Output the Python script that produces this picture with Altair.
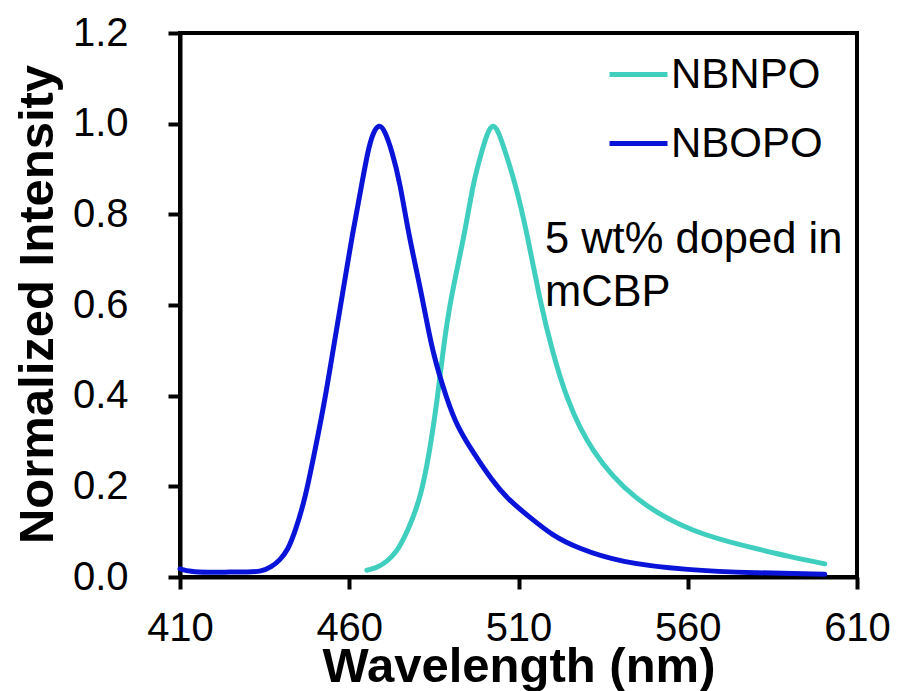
import altair as alt
import pandas as pd

# NBOPO (blue) emission
nbopo_wl = [410, 413, 418, 425, 430, 434, 437, 439.5, 441.9, 444, 446.9, 449.9, 452.8, 455.2,
            457.7, 461, 463.8, 465.5, 467, 468.8, 470.5, 472.6, 475, 477.4, 481.8, 484.4,
            488.9, 492, 497, 502, 507, 514.3, 520, 527.3, 540, 560, 580, 600.5]
nbopo_int = [0.018, 0.012, 0.010, 0.011, 0.011, 0.012, 0.022, 0.037, 0.06, 0.10, 0.17, 0.28, 0.39, 0.50,
             0.61, 0.76, 0.87, 0.94, 0.98, 1.0, 0.985, 0.94, 0.87, 0.76, 0.61, 0.50,
             0.39, 0.33, 0.27, 0.215, 0.17, 0.126, 0.092, 0.064, 0.032, 0.015, 0.009, 0.006]

# NBNPO (teal) emission
nbnpo_wl = [465.2, 468, 471, 474, 476.5, 478.5, 480.5, 482.3, 484, 486, 487.7, 489.8, 494.2, 496.6,
            499.2, 500.8, 502.4, 504, 506, 509, 512.5, 516.3, 519.9, 524.3, 531.1, 543.8,
            561.5, 579.3, 590, 600.5]
nbnpo_int = [0.015, 0.02, 0.033, 0.055, 0.09, 0.125, 0.165, 0.22, 0.29, 0.39, 0.50, 0.61, 0.76, 0.87,
             0.94, 0.98, 1.0, 0.985, 0.94, 0.87, 0.76, 0.61, 0.50, 0.39, 0.28, 0.17,
             0.097, 0.064, 0.045, 0.029]

series_names = ["NBNPO", "NBOPO"]
series_colors = ["#40CFBF", "#0A14D8"]

x_ticks = [410, 460, 510, 560, 610]
y_ticks = [0.0, 0.2, 0.4, 0.6, 0.8, 1.0, 1.2]

annot_x = [517.8]
annot_y = [0.715]
annot_text = [["5 wt% doped in", "mCBP"]]

FONT = "Liberation Sans"

df = pd.concat([
    pd.DataFrame({"wl": nbnpo_wl, "I": nbnpo_int, "series": "NBNPO", "order": 0}),
    pd.DataFrame({"wl": nbopo_wl, "I": nbopo_int, "series": "NBOPO", "order": 1}),
], ignore_index=True)

x_enc = alt.X("wl:Q",
              scale=alt.Scale(domain=[410, 610], nice=False, zero=False),
              axis=alt.Axis(values=x_ticks, title="Wavelength (nm)", labelFlush=False,
                            labelPadding=19, labelFontSize=40, format="d",
                            titleFontSize=49, titleFontWeight="bold",
                            titleX=338.5, titleY=104, titleBaseline="alphabetic",
                            titleAlign="center"))
y_enc = alt.Y("I:Q",
              scale=alt.Scale(domain=[0, 1.2], nice=False),
              axis=alt.Axis(values=y_ticks, title="Normalized Intensity", format=".1f",
                            labelFlush=False, labelPadding=40, labelFontSize=40,
                            titleFontSize=49, titleFontWeight="bold",
                            titleX=-128, titleY=271, titleAngle=270,
                            titleBaseline="alphabetic", titleAlign="center"))

lines = alt.Chart(df).mark_line(strokeWidth=5, interpolate="basis", strokeCap="round").encode(
    x=x_enc,
    y=y_enc,
    color=alt.Color("series:N",
                    scale=alt.Scale(domain=series_names, range=series_colors),
                    legend=alt.Legend(title=None, orient="none", legendX=427, legendY=10,
                                      symbolType="stroke", symbolSize=3364,
                                      symbolStrokeWidth=5, labelFontSize=42,
                                      labelOffset=1, rowPadding=16, padding=0,
                                      labelLimit=400, labelColor="black")),
    detail="series:N",
    order="order:Q",
)

annot_df = pd.DataFrame({"wl": annot_x, "I": annot_y, "t": annot_text})
annot = alt.Chart(annot_df).mark_text(
    align="left", baseline="alphabetic", fontSize=43.5, lineHeight=53, font=FONT, color="black"
).encode(x="wl:Q", y="I:Q", text="t")

chart = alt.layer(lines, annot).properties(
    width=677, height=544,
    autosize=alt.AutoSizeParams(type="none"),
    padding={"left": 180, "top": 33, "right": 40, "bottom": 114},
    background="white",
).configure_view(
    stroke="black", strokeWidth=4
).configure_axis(
    domainColor="black", domainWidth=4, tickColor="black", tickWidth=4, tickSize=12,
    grid=False, labelColor="black", titleColor="black", labelFont=FONT, titleFont=FONT,
).configure_legend(
    labelFont=FONT
)

chart.save("out.html", embed_options={"renderer": "svg", "actions": False})
